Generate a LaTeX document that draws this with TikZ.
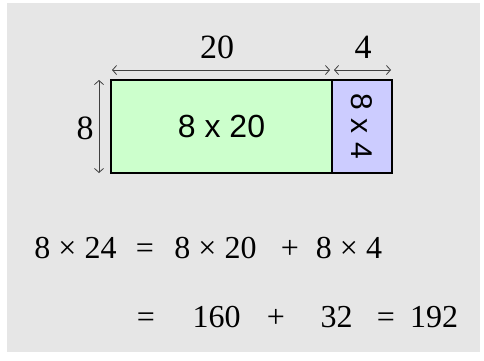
\documentclass[tikz,border=0pt]{standalone}
\usepackage{fontspec}
\setmainfont{Liberation Serif}
\newfontfamily\arialfont{Liberation Sans}
\usetikzlibrary{arrows.meta,positioning}
\definecolor{panelgray}{HTML}{E6E6E6}
\definecolor{areagreen}{HTML}{CCFFCC}
\definecolor{areablue}{HTML}{CCCCFF}
\begin{document}
\begin{tikzpicture}[x=1pt,y=-1pt,
  area/.style={draw=black,line width=2pt,inner sep=0pt,outer sep=0pt,minimum height=93pt,font=\arialfont\fontsize{32}{36}\selectfont},
  dim/.style={draw=black!75,line width=0.8pt,{Straight Barb[length=4pt,width=9pt]}-{Straight Barb[length=4pt,width=9pt]}},
  side/.style={font=\fontsize{34}{38}\selectfont,inner sep=0pt,anchor=base},
  eq/.style={font=\fontsize{32}{36}\selectfont,inner sep=0pt,anchor=base}]
\useasboundingbox (0,0) rectangle (484,360);
\fill[panelgray] (7,3) rectangle (480,352);
% the two areas
\node[area,fill=areagreen,minimum width=221pt] (big) at (221.5,126.5) {8 x 20};
\node[area,fill=areablue,minimum width=60pt,right=0pt of big] (small) {};
\node[rotate=-90,font=\arialfont\fontsize{30}{34}\selectfont] (smalltxt) at (small.center) {8 x 4};
% dimensions
\draw[dim] ([yshift=10pt,xshift=1pt]big.north west) -- ([yshift=10pt,xshift=-2pt]big.north east);
\draw[dim] ([yshift=10pt,xshift=2pt]small.north west) -- ([yshift=10pt,xshift=-1pt]small.north east);
\draw[dim] ([xshift=-12pt]big.north west) -- ([xshift=-12pt]big.south west);
\node[side] (w20) at (217,58) {20};
\node[side] (w4) at (363,58) {4};
\node[side,anchor=center] (h8) at (85,128) {8};
% the sums
\node[eq] (lhs) at (75.5,258) {8 × 24};
\node[eq] (eqa) at (145,258) {=};
\node[eq] (ta) at (215.5,258) {8 × 20};
\node[eq] (plusa) at (290,258) {+};
\node[eq] (tb) at (349,258) {8 × 4};
\node[eq] (eqb) at (146,327) {=};
\node[eq] (va) at (216.5,327) {160};
\node[eq] (plusb) at (276,327) {+};
\node[eq] (vb) at (336.5,327) {32};
\node[eq] (eqc) at (386,327) {=};
\node[eq] (res) at (434,327) {192};
\end{tikzpicture}
\end{document}
